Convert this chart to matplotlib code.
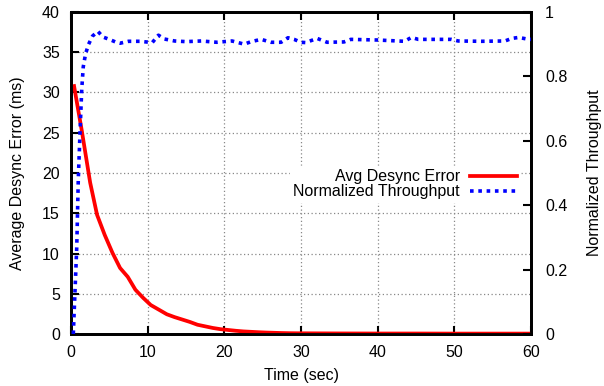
import matplotlib
matplotlib.use("Agg")
import matplotlib.pyplot as plt

plt.rcParams['font.family'] = ['Liberation Sans', 'DejaVu Sans']

# Avg desync error (ms) vs time (sec)
err_t = [0.4, 1.4, 2.5, 3.4, 4.4, 5.4, 6.4, 7.4, 8.4, 9.4, 10.4, 11.5, 12.5, 13.5,
         14.5, 15.5, 16.5, 17.5, 18.5, 19.5, 20.5, 21.5, 22.5, 23.5, 24.5, 25.5,
         26.5, 27.5, 28.5, 29.5, 32, 35, 40, 45, 50, 55, 60]
err_v = [30.8, 25.3, 18.8, 14.8, 12.3, 10.1, 8.2, 7.1, 5.5, 4.5, 3.6, 3.0, 2.45, 2.1,
         1.8, 1.5, 1.15, 0.95, 0.75, 0.6, 0.5, 0.4, 0.32, 0.27, 0.22, 0.18,
         0.15, 0.12, 0.1, 0.09, 0.08, 0.07, 0.06, 0.06, 0.05, 0.05, 0.05]

# Normalized throughput vs time (sec)
thr_t = [0.3, 0.5, 0.75, 0.95, 1.2, 1.4, 1.6, 1.9, 2.3, 2.8, 3.5, 4.2, 5.0, 6.0,
         6.4, 7.5, 9.0, 10.6, 11.4, 12.2, 13.5, 15.0, 17.0, 19.0, 21.0, 22.6, 23.5,
         24.8, 26.1, 27.4, 28.3, 29.1, 30.0, 30.6, 32.1, 33.4, 35.6, 36.5, 40.0,
         43.5, 44.4, 45.3, 49.6, 50.5, 53.5, 56.6, 57.5, 58.4, 59.7, 60.0]
thr_v = [0.0, 0.12, 0.27, 0.48, 0.64, 0.76, 0.83, 0.87, 0.90, 0.925, 0.94, 0.922, 0.915, 0.905,
         0.903, 0.909, 0.909, 0.905, 0.928, 0.916, 0.91, 0.908, 0.91, 0.906, 0.91, 0.90, 0.908,
         0.915, 0.906, 0.906, 0.92, 0.915, 0.906, 0.905, 0.918, 0.906, 0.907, 0.915, 0.913,
         0.909, 0.921, 0.915, 0.915, 0.91, 0.909, 0.91, 0.918, 0.921, 0.915, 0.915]

x_ticks = [0, 10, 20, 30, 40, 50, 60]
y_ticks = [0, 5, 10, 15, 20, 25, 30, 35, 40]
y2_ticks = [0, 0.2, 0.4, 0.6, 0.8, 1]
y2_labels = ['0', '0.2', '0.4', '0.6', '0.8', '1']

fig = plt.figure(figsize=(6.04, 3.86), dpi=100)
ax = fig.add_axes([71/604, 1-334/386, 460/604, 322/386])
ax2 = ax.twinx()

l1, = ax.plot(err_t, err_v, color='#ff0000', lw=2.7, solid_joinstyle='round', zorder=3,
              label='Avg Desync Error')
l2, = ax2.plot(thr_t, thr_v, color='#0000ff', lw=2.6, linestyle=(0, (1, 1.3)),
               label='Normalized Throughput', zorder=3)

ax.set_xlim(0, 60)
ax.set_ylim(0, 40)
ax2.set_ylim(0, 1)
ax.set_xticks(x_ticks)
ax.set_yticks(y_ticks)
ax2.set_yticks(y2_ticks)
ax2.set_yticklabels(y2_labels)

ax.grid(True, color='#888888', linestyle=(0, (1, 2)), lw=0.9)
ax.set_axisbelow(True)

fs = 11.5
ax.tick_params(axis='x', direction='in', length=6, width=1.5, top=True, labelsize=fs, pad=8)
ax.tick_params(axis='y', direction='in', length=6, width=1.5, right=False, labelsize=fs, pad=8)
ax2.tick_params(axis='y', direction='in', length=6, width=1.5, labelsize=fs, pad=10)
for a in (ax, ax2):
    for s in a.spines.values():
        s.set_linewidth(2)

ax.set_xlabel('Time (sec)', fontsize=fs, labelpad=6)
ax.set_ylabel('Average Desync Error (ms)', fontsize=fs, labelpad=12)
ax2.set_ylabel('Normalized Throughput', fontsize=fs, labelpad=14)

leg = ax2.legend(handles=[l1, l2], loc='upper right',
                 bbox_to_anchor=((528-71)/460, (334-158)/322),
                 frameon=True, markerfirst=False, fontsize=fs, handlelength=2.95,
                 handletextpad=0.63, borderpad=0.2, labelspacing=0.0, fancybox=False)
leg.get_frame().set_edgecolor('white')
leg.get_frame().set_facecolor('white')
leg.get_frame().set_alpha(1)
for t in leg.get_texts():
    t.set_ha('right')

fig.savefig('out.png', dpi=100)
